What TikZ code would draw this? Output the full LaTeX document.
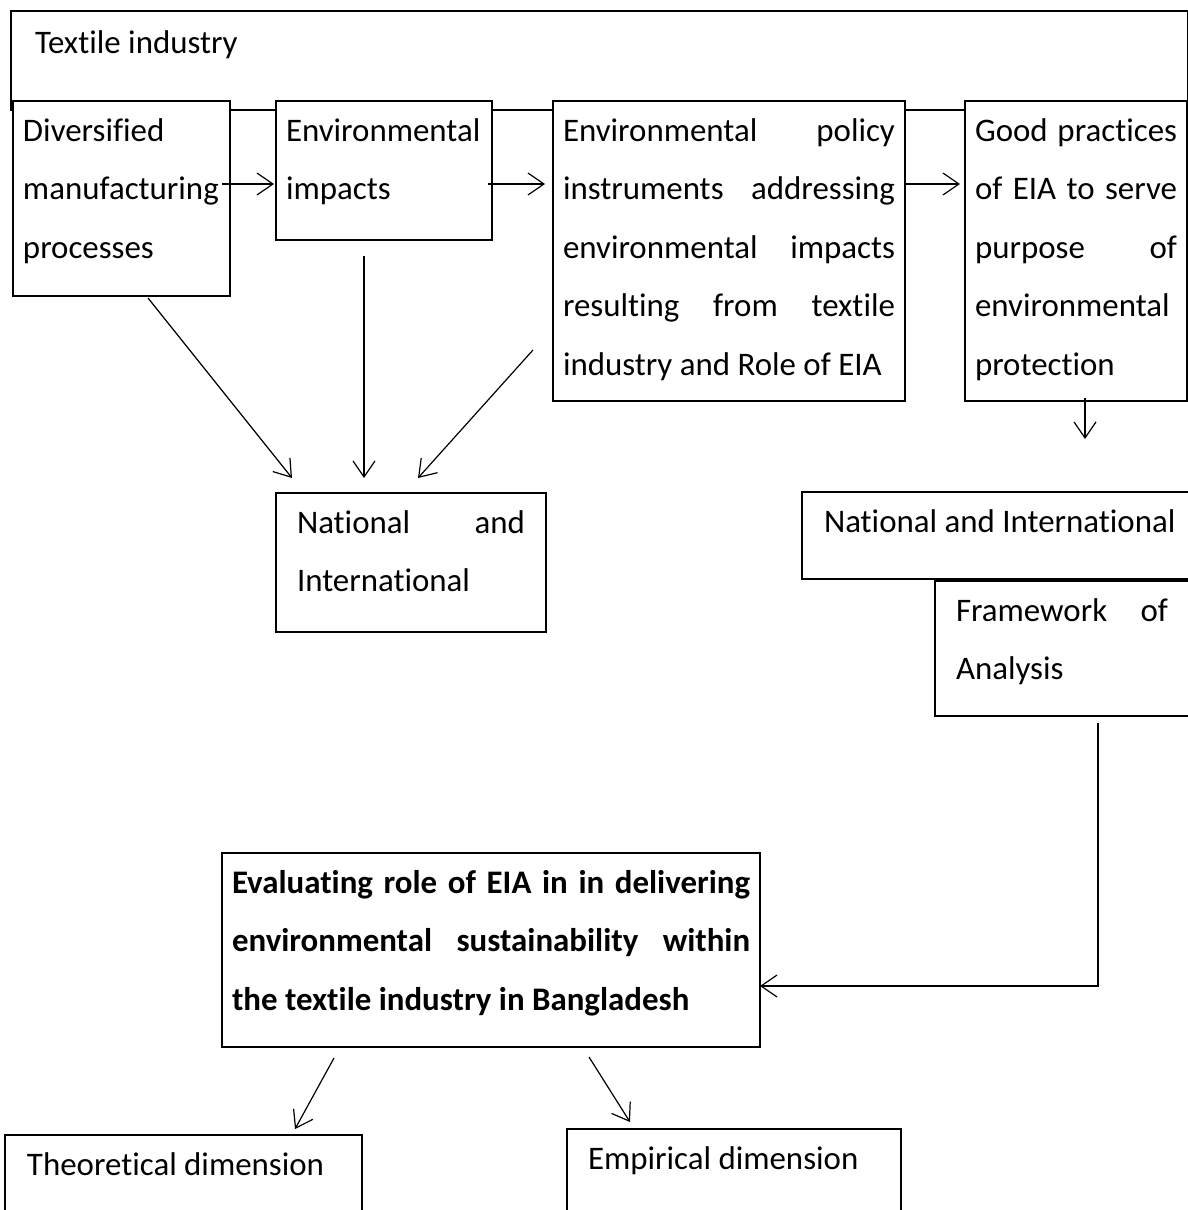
\documentclass[tikz,border=0pt]{standalone}
\usepackage{fontspec}
\setmainfont{Carlito}[Ligatures=NoCommon]
\usetikzlibrary{arrows.meta}
\hbadness=10000
\hfuzz=100pt
\vbadness=10000

\tikzset{
  panel/.style={draw, line width=1.5pt, fill=white, rectangle, anchor=north west,
    inner ysep=0pt, outer sep=0pt, font=\fontsize{32.9pt}{58.5pt}\selectfont},
  conn/.style={line width=1.2pt},
  arr/.style={conn, -{Straight Barb[length=16pt,width=22pt,line width=1.2pt]}},
}
% text block of given width and height; the optional argument is the
% distance of the first baseline below the top
\newcommand\panelbody[4][40pt]{\parbox[c][#3][t]{#2}{\rule{0pt}{#1}#4}}

\begin{document}
\begin{tikzpicture}[x=1pt,y=-1pt]
\useasboundingbox (0,0) rectangle (1188,1210);

% outer frame
\node[panel, inner xsep=24pt] (ti) at (11,11) {\panelbody[42pt]{1129pt}{99pt}{Textile industry}};

% top row
\node[panel, inner xsep=10pt] (b1) at (13,101)
  {\panelbody{197pt}{195pt}{Diversified\\manufacturing\\processes}};
\node[panel, inner xsep=10pt] (b2) at (276,101)
  {\panelbody{196pt}{139pt}{Environmental\\impacts}};
\node[panel, inner xsep=10pt] (b3) at (553,101)
  {\panelbody{332pt}{300pt}{Environmental policy\linebreak instruments addressing\linebreak environmental impacts\linebreak resulting from textile\linebreak industry and Role of EIA}};
\node[panel, inner xsep=10pt] (b4) at (965,101)
  {\panelbody{202pt}{300pt}{Good practices\linebreak of EIA to serve\linebreak purpose of\linebreak environmental\\protection}};

% middle row
\node[panel, inner xsep=21pt] (b5) at (276,493)
  {\panelbody{228pt}{139pt}{National and\linebreak International}};
\node[panel, inner xsep=22pt] (b6) at (802,492)
  {\panelbody{360pt}{87pt}{National and International}};
\node[panel, inner xsep=21pt] (b7) at (935,581)
  {\panelbody{212pt}{135pt}{Framework of\linebreak Analysis}};

% main box
\node[panel, inner xsep=10pt] (b8) at (222,853)
  {\panelbody{518pt}{194pt}{\bfseries Evaluating role of EIA in in delivering\linebreak environmental sustainability within\linebreak the textile industry in Bangladesh}};

% bottom row
\node[panel, inner xsep=22pt] (b9) at (5,1135)
  {\panelbody{313pt}{90pt}{Theoretical dimension}};
\node[panel, inner xsep=21pt] (b10) at (567,1129)
  {\panelbody{292pt}{90pt}{Empirical dimension}};

% connectors along the top row
\draw[arr] ([shift={(-8,83)}]b1.north east) -- ([shift={(-2,83)}]b2.north west);
\draw[arr] ([shift={(-4,83)}]b2.north east) -- ([shift={(-8,83)}]b3.north west);
\draw[arr] ([shift={(0,83)}]b3.north east) -- ([shift={(-5,83)}]b4.north west);

% into the national/international box
\draw[arr] ([shift={(135,2)}]b1.south west) -- ([shift={(16,-15)}]b5.north west);
\draw[arr] ([shift={(88,16)}]b2.south west) -- ([shift={(88,-15)}]b5.north west);
\draw[arr] ([shift={(-20,-51)}]b3.south west) -- ([shift={(142,-15)}]b5.north west);

% right column
\draw[arr] ([shift={(120,-3)}]b4.south west) -- ([shift={(283,-53)}]b6.north west);
\draw[conn] ([xshift=283pt]b6.south west) -- ([xshift=150pt]b7.north west);
\draw[arr] ([shift={(163,7)}]b7.south west) |- ([shift={(0,36)}]b8.east);

% bottom branches
\draw[arr] ([shift={(112,11)}]b8.south west) -- ([shift={(290,-6)}]b9.north west);
\draw[arr] ([shift={(367,10)}]b8.south west) -- ([shift={(63,-7)}]b10.north west);
\end{tikzpicture}
\end{document}
